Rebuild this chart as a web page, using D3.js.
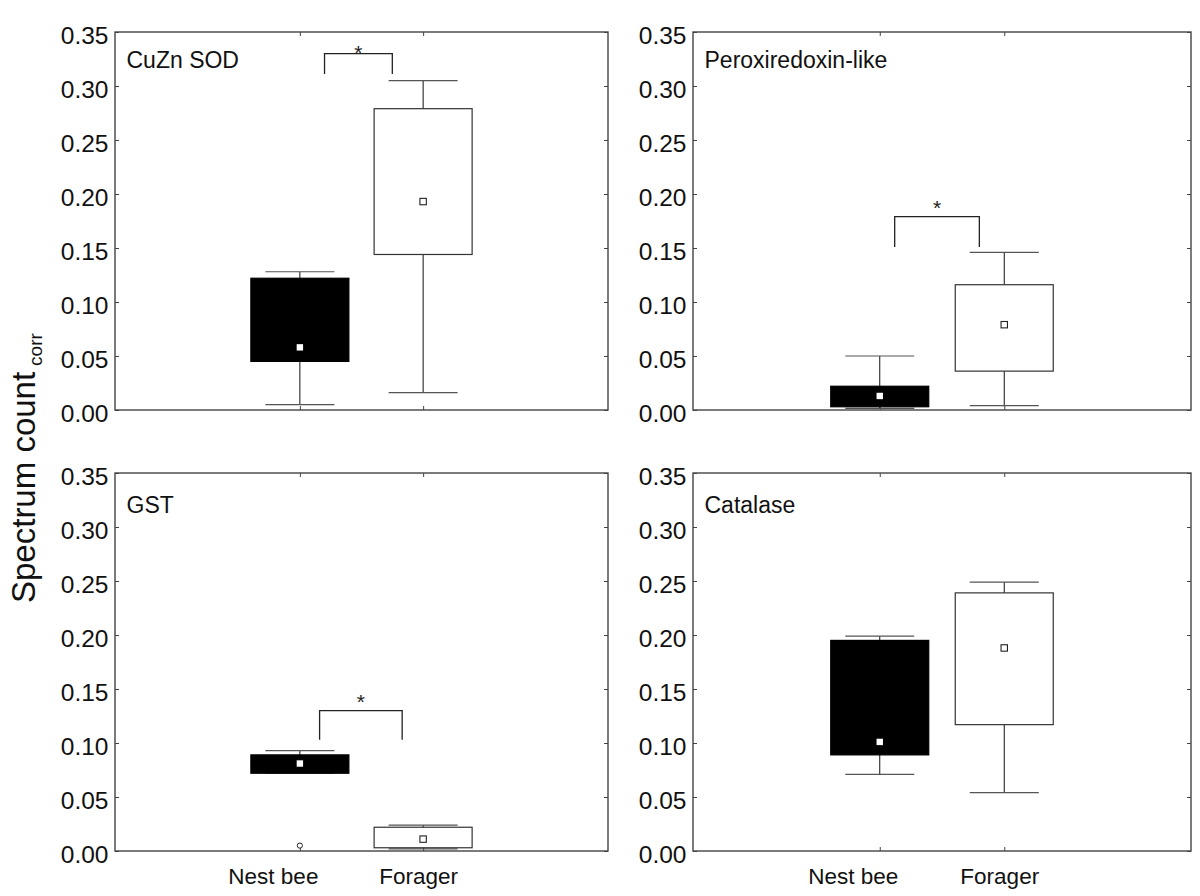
<!DOCTYPE html>
<html>
<head>
<meta charset="utf-8">
<script src="https://cdn.jsdelivr.net/npm/d3@7"></script>
<style>
  body { margin: 0; background: #fff; }
  svg { font-family: "Liberation Sans", Arial, sans-serif; }
</style>
</head>
<body>
<div id="container"></div>
<script>
// values, one entry per panel, [Nest bee, Forager]
const proteins = ['CuZn SOD', 'Peroxiredoxin-like', 'GST', 'Catalase'];
const groups = ['Nest bee', 'Forager'];
const yTicks = [0, 0.05, 0.10, 0.15, 0.20, 0.25, 0.30, 0.35];

const whiskerLow = [[0.005, 0.016], [0.0015, 0.004], [0.072, 0.002], [0.071, 0.054]];
const boxLow = [[0.045, 0.144], [0.003, 0.036], [0.072, 0.003], [0.089, 0.117]];
const boxHigh = [[0.122, 0.279], [0.022, 0.116], [0.089, 0.022], [0.195, 0.239]];
const whiskerHigh = [[0.128, 0.305], [0.050, 0.146], [0.093, 0.024], [0.199, 0.249]];
const centre = [[0.058, 0.193], [0.013, 0.079], [0.081, 0.011], [0.101, 0.188]];
const outliers = [[[], []], [[], []], [[0.005], []], [[], []]];

// significance brackets (x in group-index units, 0 = Nest bee, 1 = Forager)
const sigFrom = [0.2, 0.12, 0.16, null];
const sigTo = [0.75, 0.80, 0.83, null];
const sigTop = [0.330, 0.179, 0.130, null];
const sigLeg = [0.311, 0.151, 0.103, null];
const sigStar = [0.3345, 0.191, 0.142, null];

const width = 1200;
const height = 896;
const cols = [{ left: 115, right: 608 }, { left: 693, right: 1191 }];
const rows = [{ top: 32, bottom: 410 }, { top: 473, bottom: 851 }];
const boxW = 98;
const capW = 69;
const labelShift = [-27, -5];

const svg = d3.select('#container').append('svg')
	.attr('width', width)
	.attr('height', height);

svg.append('rect').attr('width', width).attr('height', height).attr('fill', '#fff');

proteins.forEach((name, p) => {
	const col = cols[p % 2];
	const row = rows[Math.floor(p / 2)];
	const isBottom = p >= 2;

	const x = d3.scalePoint().domain(groups).range([col.left, col.right]).padding(1.5);
	const xi = d3.scaleLinear().domain([0, 1]).range([x(groups[0]), x(groups[1])]);
	const y = d3.scaleLinear().domain([0, 0.35]).range([row.bottom, row.top]);

	const g = svg.append('g');

	// axes: ticks point inward
	const left = g.append('g')
		.attr('transform', `translate(${col.left},0)`)
		.call(d3.axisLeft(y).tickValues(yTicks).tickFormat(d3.format('.2f'))
			.tickSizeInner(-4).tickSizeOuter(0).tickPadding(6.5));
	left.selectAll('text')
		.attr('dy', '0.48em')
		.attr('font-size', 24.5)
		.attr('font-family', '"Liberation Sans", Arial, sans-serif')
		.attr('fill', '#111');

	g.append('g')
		.attr('transform', `translate(${col.right},0)`)
		.call(d3.axisRight(y).tickValues(yTicks).tickFormat('').tickSizeInner(-4).tickSizeOuter(0));

	g.append('g')
		.attr('transform', `translate(0,${row.top})`)
		.call(d3.axisTop(x).tickFormat('').tickSizeInner(-4).tickSizeOuter(0));

	const bottom = g.append('g')
		.attr('transform', `translate(0,${row.bottom})`)
		.call(d3.axisBottom(x).tickFormat(isBottom ? d => d : '')
			.tickSizeInner(-4).tickSizeOuter(0).tickPadding(17));
	bottom.selectAll('text')
		.attr('dx', (d, i) => labelShift[i])
		.attr('dy', '0.71em')
		.attr('font-size', 22.5)
		.attr('font-family', '"Liberation Sans", Arial, sans-serif')
		.attr('fill', '#111');

	g.selectAll('.domain').remove();
	g.selectAll('.tick line').attr('stroke', '#444');

	g.append('rect')
		.attr('x', col.left)
		.attr('y', row.top)
		.attr('width', col.right - col.left)
		.attr('height', row.bottom - row.top)
		.attr('fill', 'none')
		.attr('stroke', '#444')
		.attr('stroke-width', 1.4);

	// panel name
	g.append('text')
		.attr('x', col.left + 11.5)
		.attr('y', row.top + (isBottom ? 40 : 36))
		.attr('font-size', 23)
		.attr('fill', '#111')
		.text(name);

	groups.forEach((grp, k) => {
		const cx = x(grp);
		const filled = k === 0;

		// stem
		g.append('line')
			.attr('x1', cx).attr('x2', cx)
			.attr('y1', y(whiskerLow[p][k])).attr('y2', y(whiskerHigh[p][k]))
			.attr('stroke', '#111').attr('stroke-width', 1);

		// caps
		[whiskerLow[p][k], whiskerHigh[p][k]].forEach(v => {
			g.append('line')
				.attr('x1', cx - capW / 2).attr('x2', cx + capW / 2)
				.attr('y1', y(v)).attr('y2', y(v))
				.attr('stroke', '#555').attr('stroke-width', 1.2);
		});

		// box
		g.append('rect')
			.attr('x', cx - boxW / 2)
			.attr('y', y(boxHigh[p][k]))
			.attr('width', boxW)
			.attr('height', y(boxLow[p][k]) - y(boxHigh[p][k]))
			.attr('fill', filled ? '#000' : '#fff')
			.attr('stroke', filled ? '#000' : '#333')
			.attr('stroke-width', 1.2);

		// mean marker
		g.append('rect')
			.attr('x', cx - 3.2)
			.attr('y', y(centre[p][k]) - 3.2)
			.attr('width', 6.4)
			.attr('height', 6.4)
			.attr('fill', '#fff')
			.attr('stroke', filled ? 'none' : '#222')
			.attr('stroke-width', 1.1);

		outliers[p][k].forEach(v => {
			g.append('circle')
				.attr('cx', cx)
				.attr('cy', y(v))
				.attr('r', 2.6)
				.attr('fill', '#fff')
				.attr('stroke', '#222')
				.attr('stroke-width', 1);
		});
	});

	if (sigTop[p] !== null) {
		const x1 = xi(sigFrom[p]);
		const x2 = xi(sigTo[p]);
		g.append('path')
			.attr('d', d3.line()([[x1, y(sigLeg[p])], [x1, y(sigTop[p])], [x2, y(sigTop[p])], [x2, y(sigLeg[p])]]))
			.attr('fill', 'none')
			.attr('stroke', '#222')
			.attr('stroke-width', 1.3);
		g.append('text')
			.attr('x', (x1 + x2) / 2)
			.attr('y', y(sigStar[p]) + 11)
			.attr('text-anchor', 'middle')
			.attr('font-size', 21)
			.attr('fill', '#222')
			.text('*');
	}
});

// y axis title with subscript
svg.append('text')
	.attr('transform', 'translate(35,603) rotate(-90)')
	.attr('font-size', 33)
	.attr('fill', '#111')
	.call(t => {
		t.append('tspan').text('Spectrum count');
		t.append('tspan').attr('dx', 6).attr('dy', 7).attr('font-size', 19).text('corr');
	});
</script>
</body>
</html>
